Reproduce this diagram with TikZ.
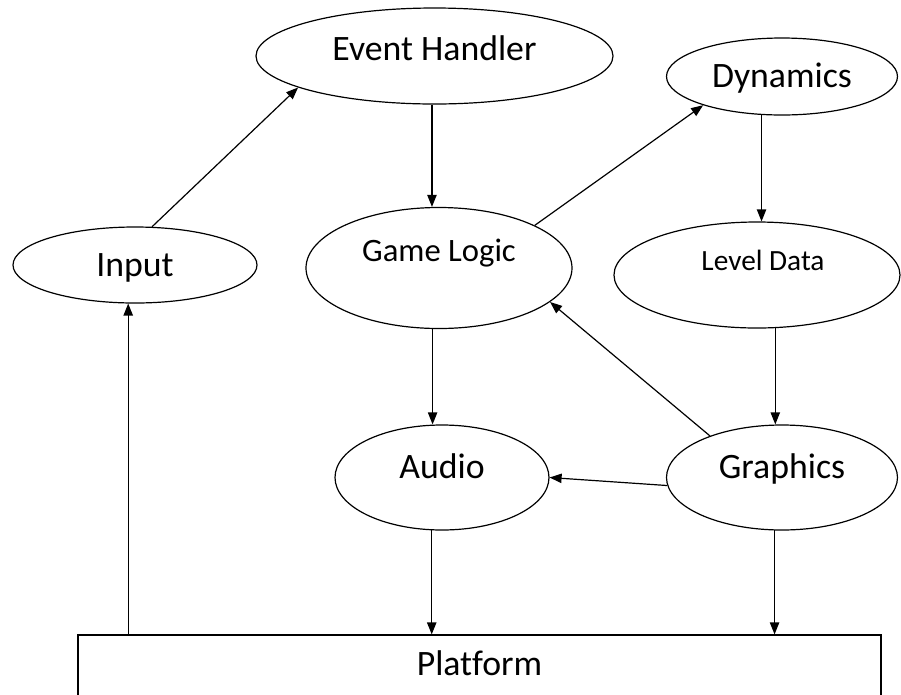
\documentclass[tikz,border=0pt]{standalone}
\usepackage{fontspec}
\setmainfont{Carlito}[Ligatures=CommonOff]
\usetikzlibrary{shapes.geometric,arrows.meta}

\tikzset{
	bubble/.style={ellipse,draw,line width=0.9pt,inner sep=0pt,text height=16.9pt,font=\fontsize{26.8}{31}\selectfont},
	link/.style={-{Triangle[length=9pt,width=7pt]},line width=0.9pt},
}

\begin{document}
\begin{tikzpicture}[x=0.75pt,y=-0.75pt]
	\useasboundingbox (0,0) rectangle (901,694);
	% modules
	\node[bubble,minimum width=267.75pt,minimum height=72pt,text depth=10.2pt] (eh) at (434.5,56) {Event Handler};
	\node[bubble,minimum width=183pt,minimum height=57pt,text depth=0pt] (in) at (135,265) {Input};
	\node[bubble,minimum width=199.5pt,minimum height=90.75pt,text height=15.5pt,text depth=25.8pt,font=\fontsize{24.5}{29}\selectfont] (gl) at (439,268) {Game Logic};
	\node[bubble,minimum width=173.25pt,minimum height=57.75pt,text depth=0pt] (dy) at (782,76.5) {Dynamics};
	\node[bubble,minimum width=214.5pt,minimum height=79.5pt,text height=13.9pt,text depth=20.5pt,font=\fontsize{22}{26}\selectfont] (ld) at (757,275) {\hspace*{9pt}Level Data};
	\node[bubble,minimum width=173.25pt,minimum height=78.75pt,text depth=15pt] (gr) at (782,477.5) {Graphics};
	\node[bubble,minimum width=160.5pt,minimum height=78.75pt,text depth=15pt] (au) at (442,477.5) {Audio};
	\node[draw,line width=0.9pt,inner sep=0pt,minimum width=602.25pt,minimum height=46.5pt,text height=16.9pt,text depth=3pt,font=\fontsize{26.8}{31}\selectfont] (pf) at (479.5,666) {Platform};
	% flow between them
	\draw[link] (in.66) -- (eh.193);
	\draw[link] (eh.-93) -- (eh.-93 |- gl.north);
	\draw[link] (gl.24) -- (dy.200);
	\draw[link] (dy.-118) -- (dy.-118 |- ld.north);
	\draw[link] (gl.-96) -- (gl.-96 |- au.north);
	\draw[link] (ld.-71) -- (ld.-71 |- gr.north);
	\draw[link] (gr.150) -- (gl.-17);
	\draw[link] (gr.184) -- (au.east);
	\draw[link] (au.-101) -- (au.-101 |- pf.north);
	\draw[link] (gr.-98) -- (gr.-98 |- pf.north);
	\draw[link] (pf.north -| in.-100) -- (in.-100);
\end{tikzpicture}
\end{document}
